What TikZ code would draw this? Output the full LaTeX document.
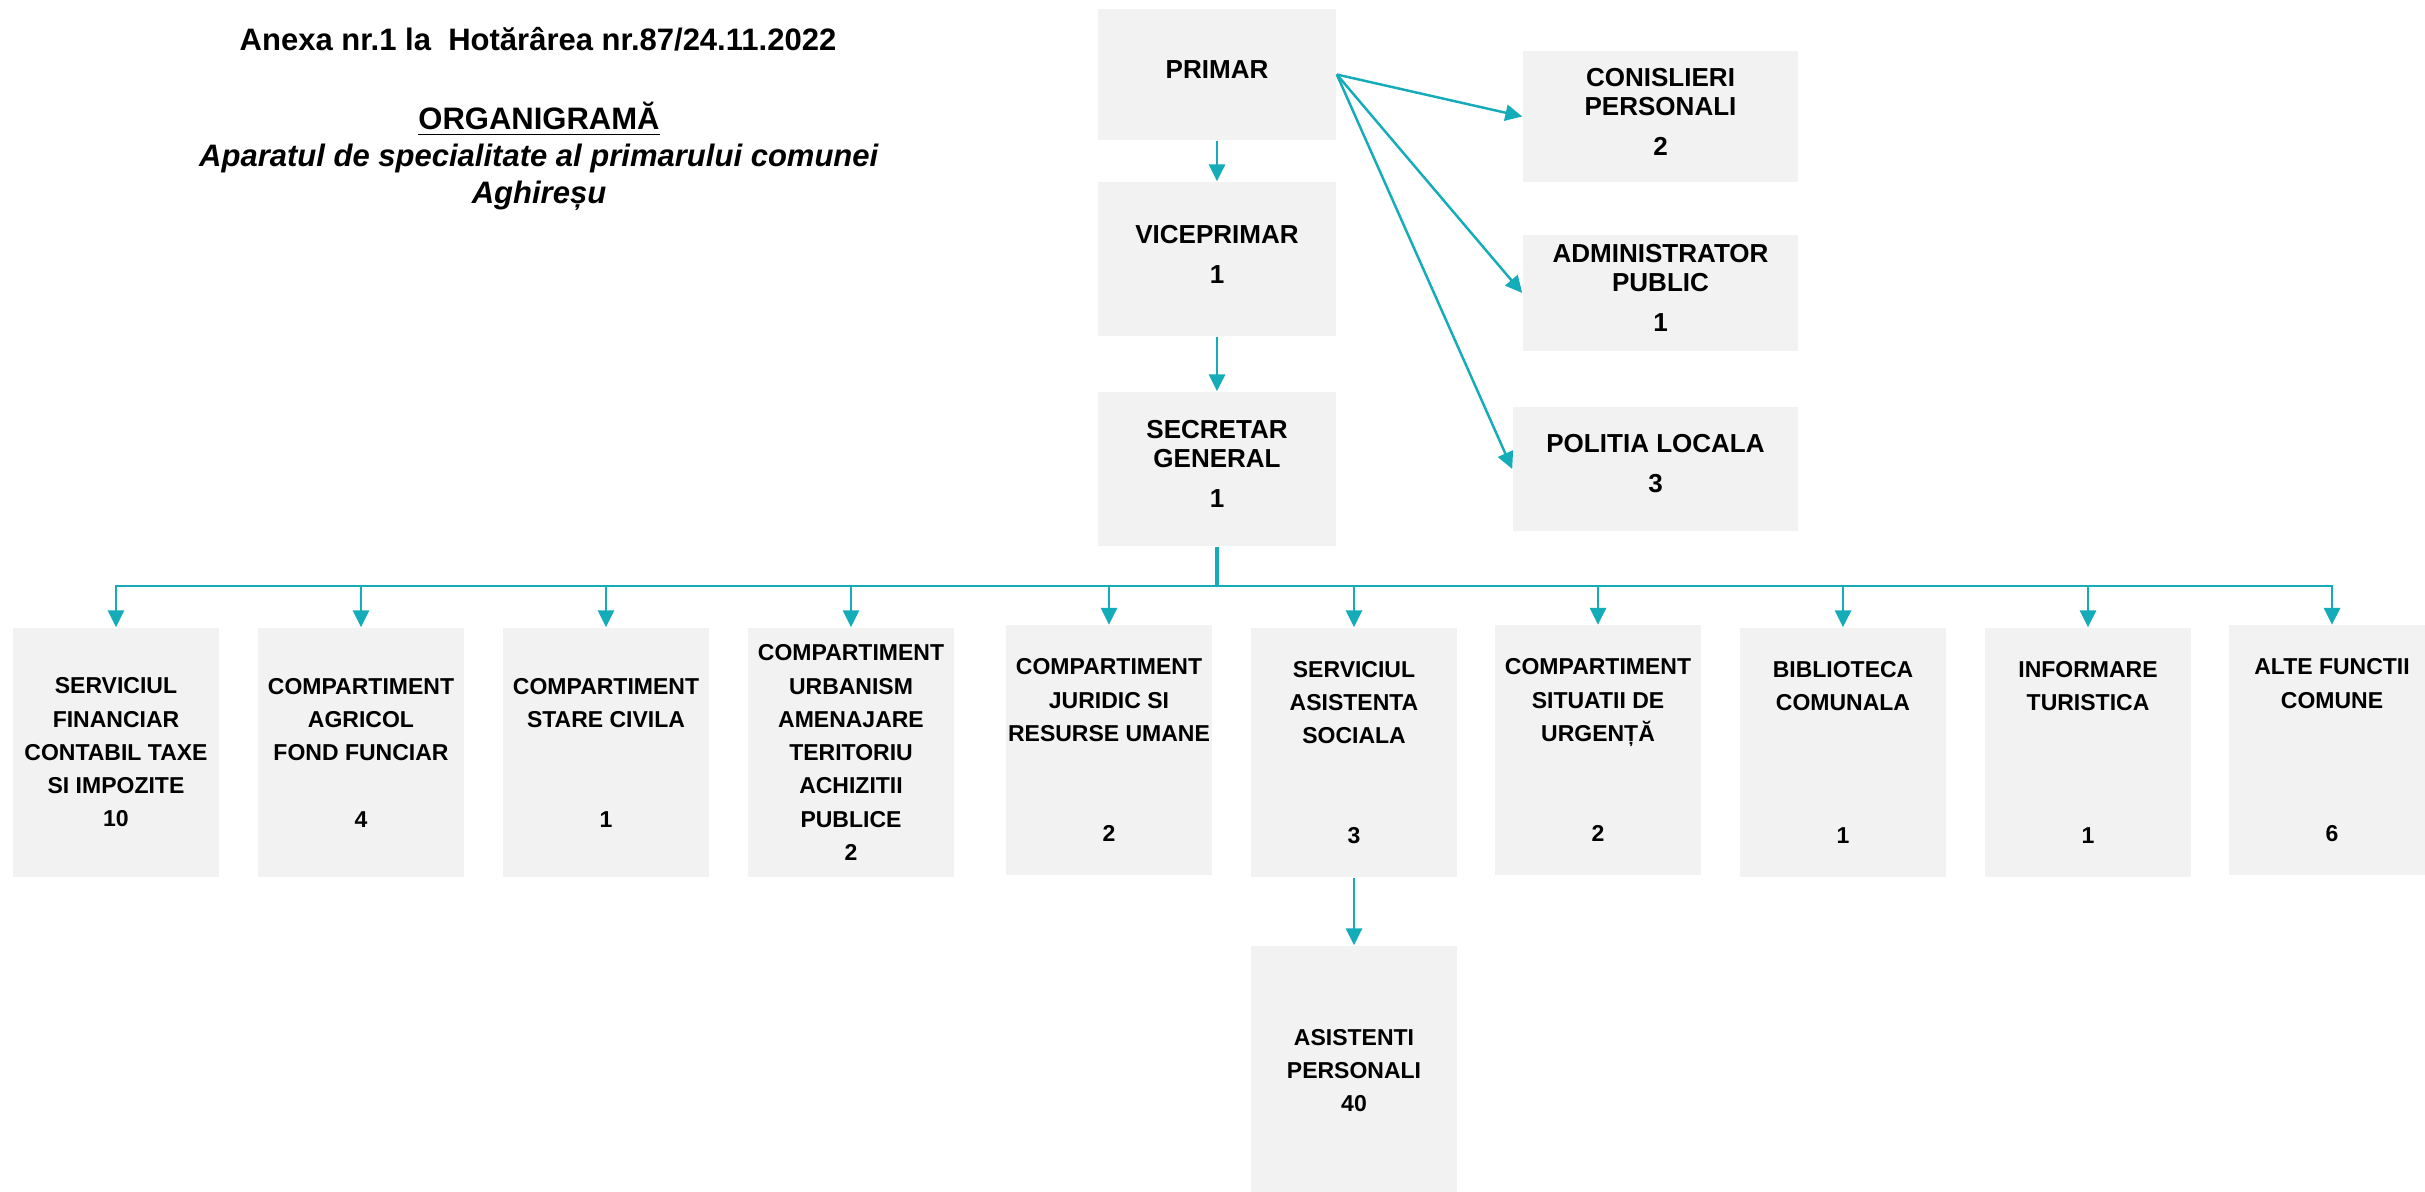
\documentclass[tikz,border=0pt]{standalone}
\usepackage{fontspec}
\setmainfont{Liberation Sans}
\usetikzlibrary{arrows.meta}
\definecolor{linkteal}{RGB}{20,172,184}
\definecolor{boxgray}{RGB}{242,242,242}

\begin{document}
\begin{tikzpicture}[x=0.01cm, y=-0.01cm,
    box/.style={fill=boxgray, inner sep=0pt, align=center},
    toptext/.style={inner sep=0pt, align=center, yshift=0.05cm,
      font=\fontsize{7.4}{8.25}\selectfont\bfseries},
    topbox/.style={box, label={[toptext]center:{#1}}},
    unitbox/.style={box, minimum width=2.06cm, minimum height=2.49cm,
      font=\fontsize{6.54}{9.45}\selectfont\bfseries},
    link/.style={draw=linkteal, line width=0.7pt,
      -{Triangle[length=4.8pt,width=4.6pt]}}]
  \useasboundingbox (0,0) rectangle (2425,1191);

  % Heading
  \node[font=\fontsize{8.82}{10.5}\selectfont\bfseries] (anexa) at (538,39)
    {Anexa nr.1 la~ Hotărârea nr.87/24.11.2022};
  \node[font=\fontsize{8.82}{10.5}\selectfont\bfseries, align=center] (heading) at (539,156)
    {\underline{ORGANIGRAMĂ}\\\textit{Aparatul de specialitate al primarului comunei}\\\textit{Aghireșu}};

  % Top of the chart
  \node[topbox={PRIMAR}, minimum width=2.38cm, minimum height=1.31cm] (primar) at (1217,74.5) {};
  \node[topbox={VICEPRIMAR\\[3.1pt]1}, minimum width=2.38cm, minimum height=1.54cm] (vice) at (1217,259) {};
  \node[topbox={SECRETAR\\GENERAL\\[3.1pt]1}, minimum width=2.38cm, minimum height=1.54cm] (secretar) at (1217,469) {};
  \node[topbox={CONISLIERI\\PERSONALI\\[3.1pt]2}, minimum width=2.75cm, minimum height=1.31cm] (consilieri) at (1660.5,116.5) {};
  \node[topbox={ADMINISTRATOR\\PUBLIC\\[3.1pt]1}, minimum width=2.75cm, minimum height=1.16cm] (admin) at (1660.5,293) {};
  \node[topbox={POLITIA LOCALA\\[3.1pt]3}, minimum width=2.85cm, minimum height=1.24cm] (politia) at (1655.5,469) {};

  % Row of departments
  \def\rowy{752.5}
  \def\rowup{750}
  \node[unitbox] (financiar) at (116,\rowy)
    {SERVICIUL\\FINANCIAR\\CONTABIL TAXE\\SI IMPOZITE\\10};
  \node[unitbox] (agricol) at (361,\rowy)
    {COMPARTIMENT\\AGRICOL\\FOND FUNCIAR\\~\\4};
  \node[unitbox] (civila) at (606,\rowy)
    {COMPARTIMENT\\STARE CIVILA\\~\\~\\1};
  \node[unitbox] (urbanism) at (851,\rowy)
    {COMPARTIMENT\\URBANISM\\AMENAJARE\\TERITORIU\\ACHIZITII\\PUBLICE\\2};
  \node[unitbox] (juridic) at (1109,\rowup)
    {COMPARTIMENT\\JURIDIC SI\\RESURSE UMANE\\~\\~\\2};
  \node[unitbox] (social) at (1354,\rowy)
    {SERVICIUL\\ASISTENTA\\SOCIALA\\~\\~\\3};
  \node[unitbox] (urgenta) at (1598,\rowup)
    {COMPARTIMENT\\SITUATII DE\\URGENȚĂ\\~\\~\\2};
  \node[unitbox] (biblioteca) at (1843,\rowy)
    {BIBLIOTECA\\COMUNALA\\~\\~\\~\\1};
  \node[unitbox] (turism) at (2088,\rowy)
    {INFORMARE\\TURISTICA\\~\\~\\~\\1};
  \node[unitbox] (alte) at (2332,\rowup)
    {ALTE FUNCTII\\COMUNE\\~\\~\\~\\6};
  \node[unitbox] (asistenti) at (1354,1070.5)
    {ASISTENTI\\PERSONALI\\40};

  % Connectors
  \draw[link] (primar.south) -- (vice.north);
  \draw[link] (vice.south) -- (secretar.north);
  \draw[link] (primar.east) -- (consilieri.west);
  \draw[link] (primar.east) -- (admin.west);
  \draw[link] (primar.east) -- (politia.west);

  \coordinate (bus) at (1217,586);
  \draw[linkteal, line width=1.1pt] (secretar.south) -- (bus);
  \foreach \unit in {financiar,agricol,civila,urbanism,juridic,social,urgenta,biblioteca,turism,alte}
    \draw[link] (bus) -| (\unit.north);
  \draw[link] (social.south) -- (asistenti.north);
\end{tikzpicture}
\end{document}
